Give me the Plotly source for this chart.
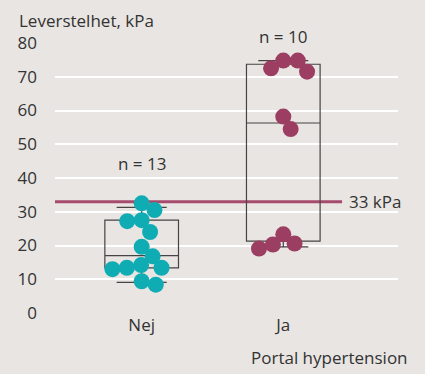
import math
import plotly.graph_objects as go

# ---- data ----
categories = ["Nej", "Ja"]
nej_values = [32.5, 30.5, 27.5, 27.2, 24.0, 19.6, 16.8, 14.2, 13.4, 13.4, 13.0, 9.4, 8.4]
ja_values = [74.8, 74.8, 72.5, 71.5, 58.2, 54.5, 23.3, 20.6, 20.3, 19.1]
nej_box = dict(lower=9.1, q1=13.35, median=17.0, q3=27.5, upper=31.3)
ja_box = dict(lower=19.6, q1=21.3, median=56.3, q3=73.7, upper=74.8)
n_labels = ["n = 13", "n = 10"]
threshold = 33
threshold_label = "33 kPa"
y_ticks = [0, 10, 20, 30, 40, 50, 60, 70, 80]

# ---- layout constants ----
W, H = 425, 374
ML, MR, MT, MB = 55, 27, 43, 61
XR = [-0.612, 1.81]
YR = [0, 80]
N_LABEL_Y = [44.4, 81.8]
BG = "#e9e5e2"
TEAL = "#10acb4"
MAROON = "#9c3d62"
LINE_RED = "#a64b6d"
FONT = "Open Sans"
FS = 17
TXT = "#333333"

px_per_x = (W - ML - MR) / (XR[1] - XR[0])
px_per_y = (H - MT - MB) / (YR[1] - YR[0])


def swarm(values, d=14.5):
    order = sorted(range(len(values)), key=lambda i: -values[i])
    placed = []
    offs = [0.0] * len(values)
    for i in order:
        y = values[i] * px_per_y
        cands = [0.0]
        for (px_, py_) in placed:
            dy = abs(y - py_)
            if dy < d:
                dx = math.sqrt(d * d - dy * dy)
                cands += [px_ + dx, px_ - dx]
        valid = [c for c in cands
                 if all(math.hypot(c - a, y - b) >= d - 1e-6 for a, b in placed)]
        best = min(valid, key=abs)
        offs[i] = best / px_per_x
        placed.append((best, y))
    return offs


fig = go.Figure()

for ci, (vals, col) in enumerate([(nej_values, TEAL), (ja_values, MAROON)]):
    offs = swarm(vals)
    fig.add_trace(go.Scatter(
        x=[ci + o for o in offs], y=vals, mode="markers",
        marker=dict(size=16, color=col, line=dict(width=0)),
        cliponaxis=False, showlegend=False, hoverinfo="y"))

for ci, b in enumerate([nej_box, ja_box]):
    fig.add_trace(go.Box(
        x=[ci], q1=[b["q1"]], median=[b["median"]], q3=[b["q3"]],
        lowerfence=[b["lower"]], upperfence=[b["upper"]],
        width=0.52, whiskerwidth=0.68, boxpoints=False,
        line=dict(color="#444444", width=1.2),
        fillcolor="rgba(0,0,0,0)", showlegend=False))

fig.add_shape(type="line", xref="paper", yref="y", x0=0, x1=0.837,
              y0=threshold, y1=threshold, line=dict(color=LINE_RED, width=3),
              layer="below")

fig.add_annotation(xref="paper", yref="y", x=0.852, y=threshold,
                   text=threshold_label, showarrow=False, xanchor="left",
                   yanchor="middle", font=dict(size=FS, color=TXT, family=FONT))

for ci, lab in enumerate(n_labels):
    fig.add_annotation(x=ci, y=(N_LABEL_Y[ci] - YR[0]) / (YR[1] - YR[0]),
                       yref="paper", text=lab, showarrow=False,
                       yanchor="middle",
                       font=dict(size=FS, color=TXT, family=FONT))

fig.add_annotation(xref="paper", yref="paper", x=-0.111, y=1.0, yshift=9,
                   text="Leverstelhet, kPa", showarrow=False,
                   xanchor="left", yanchor="bottom",
                   font=dict(size=FS, color=TXT, family=FONT))
fig.add_annotation(xref="paper", yref="paper", x=1.035, y=-0.115,
                   text="Portal hypertension", showarrow=False,
                   xanchor="right", yanchor="top",
                   font=dict(size=FS, color=TXT, family=FONT))

fig.update_layout(
    width=W, height=H, margin=dict(l=ML, r=MR, t=MT, b=MB, autoexpand=False),
    paper_bgcolor=BG, plot_bgcolor=BG,
    font=dict(family=FONT, size=FS, color=TXT),
    xaxis=dict(range=XR, tickvals=[0, 1], ticktext=categories,
               showgrid=False, zeroline=False, showline=False, automargin=False,
               ticks="", tickfont=dict(size=FS, color=TXT)),
    yaxis=dict(range=YR, tickvals=y_ticks, showgrid=True, automargin=False,
               gridcolor="white", gridwidth=1.5, zeroline=False,
               showline=False, ticks="", ticklabelstandoff=17,
               tickfont=dict(size=FS, color=TXT)),
)

fig.write_html("out.html", config={"displayModeBar": False},
               post_script="document.body.style.margin='0';"
                           "document.body.style.overflow='hidden';"
                           "document.body.style.background='" + BG + "';")
